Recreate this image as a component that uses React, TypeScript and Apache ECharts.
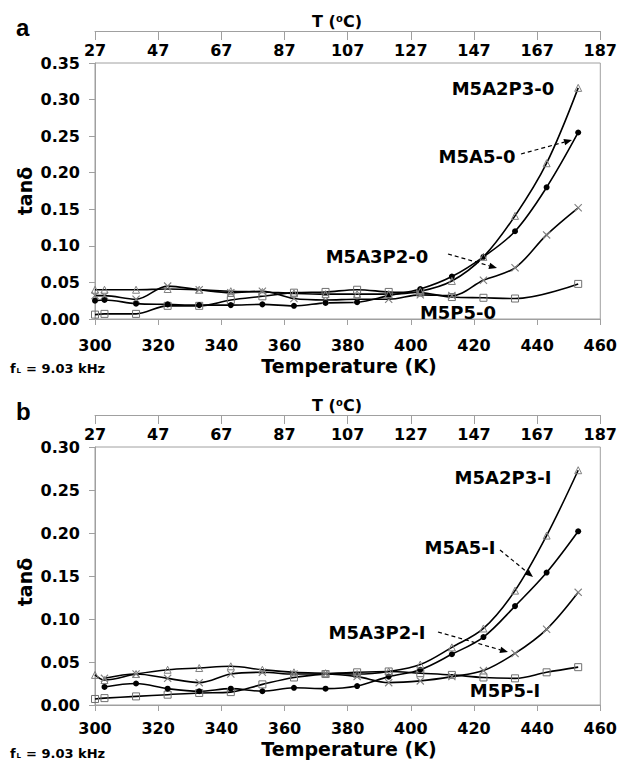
import React, { useEffect, useRef } from "react";
import * as echarts from "echarts";

// ---------- data (panel a) ----------
const tempsA = [300, 303, 313, 323, 333, 343, 353, 363, 373, 383, 393, 403, 413, 423, 433, 443, 453];
const m5a2p3A = [0.040, 0.040, 0.040, 0.041, 0.040, 0.038, 0.037, 0.035, 0.034, 0.034, 0.034, 0.038, 0.052, 0.085, 0.141, 0.213, 0.316];
const m5a5A = [0.025, 0.026, 0.021, 0.020, 0.019, 0.019, 0.020, 0.018, 0.022, 0.023, 0.032, 0.041, 0.058, 0.085, 0.120, 0.180, 0.255];
const m5a3p2A = [0.032, 0.032, 0.027, 0.045, 0.040, 0.036, 0.038, 0.028, 0.026, 0.027, 0.027, 0.033, 0.032, 0.053, 0.070, 0.115, 0.152];
const m5p5A = [0.006, 0.007, 0.007, 0.018, 0.018, 0.026, 0.031, 0.036, 0.037, 0.040, 0.037, 0.036, 0.030, 0.029, 0.028, null, 0.048];

// ---------- data (panel b) ----------
const tempsB = [300, 303, 313, 323, 333, 343, 353, 363, 373, 383, 393, 403, 413, 423, 433, 443, 453];
const m5a2p3B = [0.035, 0.029, 0.036, 0.041, 0.043, 0.045, 0.041, 0.038, 0.037, 0.036, 0.039, 0.047, 0.067, 0.089, 0.133, 0.197, 0.273];
const m5a5B = [null, 0.021, 0.025, 0.019, 0.016, 0.019, 0.016, 0.020, 0.019, 0.022, 0.033, 0.041, 0.059, 0.079, 0.115, 0.154, 0.202];
const m5a3p2B = [null, 0.031, 0.036, 0.031, 0.026, 0.036, 0.038, 0.036, 0.036, 0.033, 0.026, 0.028, 0.033, 0.040, 0.060, 0.088, 0.131];
const m5p5B = [0.007, 0.008, 0.010, 0.012, 0.014, 0.015, 0.024, 0.032, 0.036, 0.038, 0.039, 0.037, 0.035, 0.032, 0.031, 0.038, 0.044];

// ---------- axes ----------
const kMin = 300;
const kMax = 460;
const kStep = 20;
const celsiusOffset = 273;
const yMaxA = 0.35;
const yMaxB = 0.3;
const yStep = 0.05;

const FONT = "DejaVu Sans";
const GREY = "#a0a0a0";

function zip(xs: number[], ys: (number | null)[]) {
  const out: number[][] = [];
  xs.forEach((x, i) => {
    const y = ys[i];
    if (y !== null && y !== undefined) out.push([x, y]);
  });
  return out;
}

const CROSS = "path://M0,1L1,0L5,4L9,0L10,1L6,5L10,9L9,10L5,6L1,10L0,9L4,5Z";

function mk(name: string, xs: number[], ys: (number | null)[], kind: string, axis: number) {
  let symbol = "circle";
  let symbolSize = 6;
  let itemStyle: any = { color: "#000" };
  if (kind === "tri") {
    symbol = "triangle";
    symbolSize = 7;
    itemStyle = { color: "rgba(255,255,255,0)", borderColor: "#808080", borderWidth: 1 };
  } else if (kind === "sq") {
    symbol = "rect";
    symbolSize = 7;
    itemStyle = { color: "rgba(255,255,255,0)", borderColor: "#707070", borderWidth: 1 };
  } else if (kind === "x") {
    symbol = CROSS;
    symbolSize = 8;
    itemStyle = { color: "#808080" };
  }
  return {
    type: "line",
    name,
    xAxisIndex: axis === 0 ? 0 : 2,
    yAxisIndex: axis,
    data: zip(xs, ys),
    smooth: 0.35,
    symbol,
    symbolSize,
    showSymbol: true,
    itemStyle,
    lineStyle: { color: "#000", width: 1.6 },
    emphasis: { disabled: true },
    silent: true,
  };
}

function bottomAxis(grid: number, margin: number) {
  return {
    type: "value",
    gridIndex: grid,
    position: "bottom",
    min: kMin,
    max: kMax,
    interval: kStep,
    axisLine: { show: true, onZero: false, lineStyle: { color: GREY, width: 1 } },
    axisTick: { show: true, length: 6, lineStyle: { color: GREY } },
    axisLabel: { color: "#000", fontSize: 16, lineHeight: 16, fontWeight: "bold", fontFamily: FONT, margin },
    splitLine: { show: false },
  };
}

function topAxis(grid: number) {
  return {
    type: "value",
    gridIndex: grid,
    position: "top",
    offset: 32,
    min: kMin,
    max: kMax,
    interval: kStep,
    axisLine: { show: true, onZero: false, lineStyle: { color: GREY, width: 1 } },
    axisTick: { show: true, inside: true, length: 9, lineStyle: { color: GREY } },
    axisLabel: {
      inside: true,
      margin: 11,
      color: "#000",
      fontSize: 16,
      lineHeight: 16,
      fontWeight: "bold",
      fontFamily: FONT,
      formatter: (v: number) => String(Math.round(v - celsiusOffset)),
    },
    splitLine: { show: false },
  };
}

function yAxis(grid: number, max: number) {
  return {
    type: "value",
    gridIndex: grid,
    min: 0,
    max,
    interval: yStep,
    axisLine: { show: true, onZero: false, lineStyle: { color: GREY, width: 1 } },
    axisTick: { show: true, length: 6, lineStyle: { color: GREY } },
    axisLabel: {
      color: "#000",
      fontSize: 16,
      fontWeight: "bold",
      fontFamily: FONT,
      margin: 15,
      formatter: (v: number) => v.toFixed(2),
    },
    splitLine: { show: false },
  };
}

function txt(text: string, x: number, y: number, size: number, extra: any = {}) {
  return {
    type: "text",
    x,
    y,
    silent: true,
    style: {
      text,
      fill: "#000",
      font: `bold ${size}px "${FONT}"`,
      lineHeight: size,
      align: extra.align || "center",
      verticalAlign: "middle",
    },
    rotation: extra.rotation || 0,
  };
}

function arrow(x1: number, y1: number, x2: number, y2: number) {
  const ang = Math.atan2(y2 - y1, x2 - x1);
  const L = 8;
  const W = 3.2;
  const bx = x2 - L * Math.cos(ang);
  const by = y2 - L * Math.sin(ang);
  const px = -Math.sin(ang) * W;
  const py = Math.cos(ang) * W;
  return [
    {
      type: "line",
      silent: true,
      shape: { x1, y1, x2: bx, y2: by },
      style: { stroke: "#000", lineWidth: 1.2, lineDash: [4, 3] },
    },
    {
      type: "polygon",
      silent: true,
      shape: { points: [[x2, y2], [bx + px, by + py], [bx - px, by - py]] },
      style: { fill: "#000" },
    },
  ];
}

function freqLabel(y: number) {
  return [
    { type: "text", x: 10, y, silent: true, style: { text: "f", fill: "#000", font: `bold 13px "${FONT}"`, align: "left", verticalAlign: "middle" } },
    { type: "text", x: 16.5, y: y + 3, silent: true, style: { text: "L", fill: "#000", font: `bold 7px "${FONT}"`, align: "left", verticalAlign: "middle" } },
    { type: "text", x: 26, y, silent: true, style: { text: "= 9.03 kHz", fill: "#000", font: `bold 13px "${FONT}"`, align: "left", verticalAlign: "middle" } },
  ];
}

export default function App() {
  const ref = useRef<HTMLDivElement>(null);
  useEffect(() => {
    if (!ref.current) return;
    const chart = echarts.init(ref.current, undefined, { renderer: "svg" });
    const option: any = {
      animation: false,
      backgroundColor: "#fff",
      grid: [
        { left: 95, top: 63, width: 508, height: 256, show: true, borderColor: GREY, borderWidth: 1, backgroundColor: "rgba(0,0,0,0)" },
        { left: 95, top: 447, width: 507, height: 258, show: true, borderColor: GREY, borderWidth: 1, backgroundColor: "rgba(0,0,0,0)" },
      ],
      xAxis: [bottomAxis(0, 18), topAxis(0), bottomAxis(1, 15), topAxis(1)],
      yAxis: [yAxis(0, yMaxA), yAxis(1, yMaxB)],
      series: [
        mk("M5P5-0", tempsA, m5p5A, "sq", 0),
        mk("M5A3P2-0", tempsA, m5a3p2A, "x", 0),
        mk("M5A5-0", tempsA, m5a5A, "dot", 0),
        mk("M5A2P3-0", tempsA, m5a2p3A, "tri", 0),
        mk("M5P5-I", tempsB, m5p5B, "sq", 1),
        mk("M5A3P2-I", tempsB, m5a3p2B, "x", 1),
        mk("M5A5-I", tempsB, m5a5B, "dot", 1),
        mk("M5A2P3-I", tempsB, m5a2p3B, "tri", 1),
      ],
      graphic: [
        // panel letters
        { type: "text", x: 16, y: 27, silent: true, style: { text: "a", fill: "#000", font: 'bold 24px "Liberation Sans"', align: "left", verticalAlign: "middle" } },
        { type: "text", x: 16, y: 411, silent: true, style: { text: "b", fill: "#000", font: 'bold 24px "Liberation Sans"', align: "left", verticalAlign: "middle" } },
        // axis titles
        txt("T (\u2070C)", 337, 21, 16),
        txt("T (\u2070C)", 337, 405, 16),
        txt("Temperature (K)", 349, 366, 19),
        txt("Temperature (K)", 349, 749, 19),
        txt("tan\u03b4", 25, 191, 19, { rotation: Math.PI / 2 }),
        txt("tan\u03b4", 25, 582, 19, { rotation: Math.PI / 2 }),
        ...freqLabel(368),
        ...freqLabel(753),
        // series labels panel a
        txt("M5A2P3-0", 503, 88, 18),
        txt("M5A5-0", 477, 156, 18),
        txt("M5A3P2-0", 377, 256, 18),
        txt("M5P5-0", 458, 312, 18),
        ...arrow(521, 154, 572, 140),
        ...arrow(448, 254, 497, 268),
        // series labels panel b
        txt("M5A2P3-I", 503, 477, 18),
        txt("M5A5-I", 460, 547, 18),
        txt("M5A3P2-I", 377, 632, 18),
        txt("M5P5-I", 505, 690, 18),
        ...arrow(500, 550, 533, 577),
        ...arrow(438, 632, 508, 652),
      ],
    };
    chart.setOption(option);
    return () => chart.dispose();
  }, []);
  return <div ref={ref} style={{ position: "absolute", left: 0, top: 0, width: 620, height: 763 }} />;
}
